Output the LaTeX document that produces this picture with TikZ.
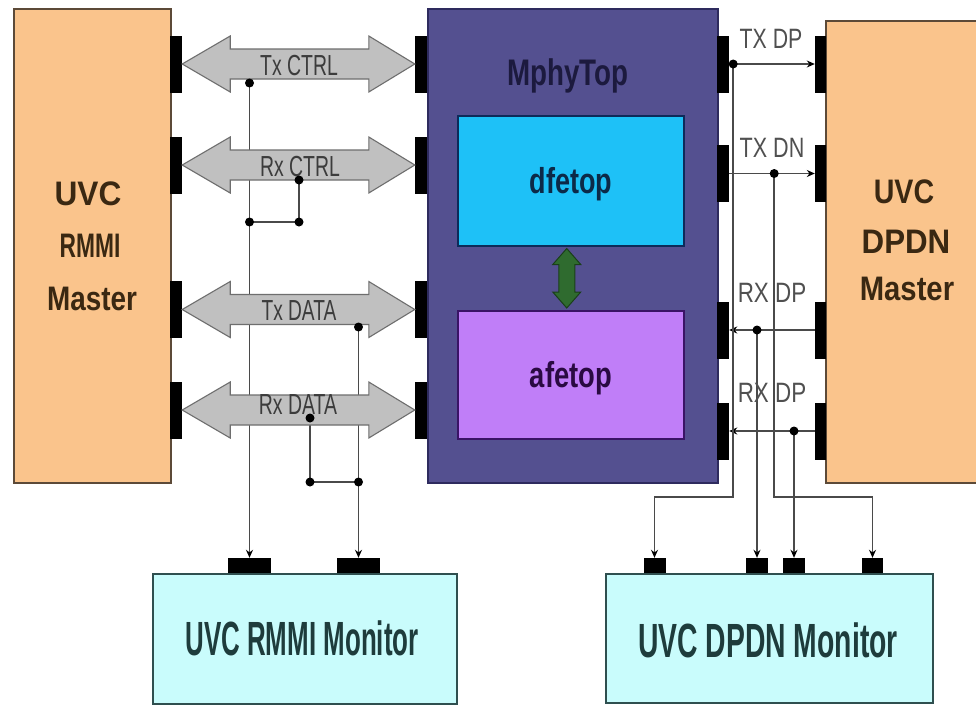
\documentclass[tikz,border=0pt]{standalone}
\usepackage{fontspec}
\setmainfont{Liberation Sans}
\usetikzlibrary{calc,arrows.meta}

\definecolor{peach}{HTML}{FAC48C}
\definecolor{peachedge}{HTML}{5C4A38}
\definecolor{mphyfill}{HTML}{545090}
\definecolor{mphyedge}{HTML}{2E2B5E}
\definecolor{dfefill}{HTML}{1EC1F7}
\definecolor{dfeedge}{HTML}{0D2B5A}
\definecolor{afefill}{HTML}{C07EF8}
\definecolor{afeedge}{HTML}{3A1466}
\definecolor{monfill}{HTML}{C9FCFC}
\definecolor{monedge}{HTML}{2F4F4F}
\definecolor{busfill}{HTML}{C0C0C0}
\definecolor{busedge}{HTML}{6E6E6E}
\definecolor{wirecol}{HTML}{4A4A4A}
\definecolor{labelcol}{HTML}{3C3C3C}
\definecolor{sidecol}{HTML}{505050}
\definecolor{gfill}{HTML}{2F6B2F}
\definecolor{gedge}{HTML}{1A3F1A}
\definecolor{mastertxt}{HTML}{3A2812}
\definecolor{montxt}{HTML}{1E3C3C}
\definecolor{mphytxt}{HTML}{1C1A3E}
\definecolor{dfetxt}{HTML}{0C2A48}
\definecolor{afetxt}{HTML}{2A0A42}

\newcommand\sq[2]{\scalebox{#1}[1]{#2}}

% double-headed bus arrow between two port nodes
\newcommand\busarrow[2]{%
  \draw[bus] (#1.east) -- ++(48,-28) -- ++(0,13)
    -- ($(#2.west)+(-46,-15)$) -- ++(0,-13) -- (#2.west)
    -- ++(-46,28) -- ++(0,-13) -- ($(#1.east)+(48,15)$)
    -- ++(0,13) -- cycle;}

\tikzset{
  box/.style={draw, line width=1.5pt, inner sep=0pt, anchor=north west},
  port/.style={fill=black, draw=none, inner sep=0pt, minimum width=12pt, minimum height=57pt},
  mport/.style={fill=black, draw=none, inner sep=0pt, minimum height=15pt},
  wire/.style={draw=wirecol, line width=1.7pt},
  tip/.style={-{Stealth[length=8pt,width=7pt,color=black]}},
  bus/.style={draw=busedge, fill=busfill, line width=1.1pt},
  gbus/.style={draw=gedge, fill=gfill, line width=1pt},
  dot/.style={circle, fill=black, inner sep=0pt, minimum size=9pt},
  txt/.style={anchor=base, inner sep=0pt},
  buslbl/.style={txt, text=labelcol, font=\fontsize{29}{29}\selectfont},
  sidelbl/.style={txt, text=sidecol, font=\fontsize{28}{28}\selectfont},
  mastertext/.style={txt, text=mastertxt, font=\bfseries\fontsize{34}{34}\selectfont},
  montext/.style={txt, text=montxt, font=\bfseries\fontsize{48}{48}\selectfont},
}

\begin{document}
\begin{tikzpicture}[x=1pt,y=-1pt]
\clip (0,0) rectangle (976,704);
\fill[white] (0,0) rectangle (976,704);

% blocks
\node[box, fill=peach, draw=peachedge, minimum width=157pt, minimum height=474pt] (rmmiM) at (13,8) {};
\node[box, fill=mphyfill, draw=mphyedge, minimum width=290pt, minimum height=474pt] (mphy) at (427,8) {};
\node[box, fill=dfefill, draw=dfeedge, minimum width=226pt, minimum height=130pt] (dfe) at (457,115) {};
\node[box, fill=afefill, draw=afeedge, minimum width=226pt, minimum height=128pt] (afe) at (457,310) {};
\node[box, fill=peach, draw=peachedge, minimum width=170pt, minimum height=462pt] (dpdnM) at (825,20) {};
\node[box, fill=monfill, draw=monedge, minimum width=304pt, minimum height=130pt] (rmmiMon) at (152,573) {};
\node[box, fill=monfill, draw=monedge, minimum width=327pt, minimum height=129pt] (dpdnMon) at (605,573) {};

% ports of the RMMI master and the left side of MphyTop
\node[port] (lp1) at (176,64) {};
\node[port] (lp2) at (176,165) {};
\node[port] (lp3) at (176,309.5) {};
\node[port] (lp4) at (176,410) {};
\node[port] (ml1) at (421,64) {};
\node[port] (ml2) at (421,165) {};
\node[port] (ml3) at (421,309.5) {};
\node[port] (ml4) at (421,410) {};

% ports of the right side of MphyTop and the DPDN master
\node[port] (mr1) at (723,64) {};
\node[port] (mr2) at (723,173.5) {};
\node[port] (mr3) at (723,330) {};
\node[port] (mr4) at (723,431) {};
\node[port, minimum width=11pt] (dp1) at (820.5,64) {};
\node[port, minimum width=11pt] (dp2) at (820.5,173.5) {};
\node[port, minimum width=11pt] (dp3) at (820.5,330) {};
\node[port, minimum width=11pt] (dp4) at (820.5,431) {};

% monitor ports
\node[mport, minimum width=43pt] (rm1) at (249.5,565.5) {};
\node[mport, minimum width=43pt] (rm2) at (358.5,565.5) {};
\node[mport, minimum width=22pt] (dm1) at (654.5,565.5) {};
\node[mport, minimum width=22pt] (dm2) at (757,565.5) {};
\node[mport, minimum width=22pt] (dm3) at (794,565.5) {};
\node[mport, minimum width=21pt] (dm4) at (872.5,565.5) {};

% junctions of the RMMI side taps
\coordinate (k1) at (249.5,83);
\coordinate (k2) at (299,180);
\coordinate (k3) at (249.5,222);
\coordinate (k4) at (299,222);
\coordinate (k5) at (358.5,327);
\coordinate (k6) at (310,418);
\coordinate (k7) at (310,482);
\coordinate (k8) at (358.5,482);

% RMMI monitor taps
\draw[wire,tip] (k1) -- (rm1.north);
\draw[wire] (k2) -- (k4) -- (k3);
\draw[wire,tip] (k5) -- (rm2.north);
\draw[wire] (k6) -- (k7) -- (k8);

% RMMI buses
\busarrow{lp1}{ml1}
\busarrow{lp2}{ml2}
\busarrow{lp3}{ml3}
\busarrow{lp4}{ml4}
\node[buslbl] (lTxC) at (299,75) {\sq{.67}{Tx CTRL}};
\node[buslbl] (lRxC) at (300,176) {\sq{.67}{Rx CTRL}};
\node[buslbl] (lTxD) at (299,320) {\sq{.66}{Tx DATA}};
\node[buslbl] (lRxD) at (298,414) {\sq{.67}{Rx DATA}};

\foreach \k in {k1,k2,k3,k4,k5,k6,k7,k8}
  \node[dot] (d\k) at (\k) {};

% DPDN lines
\coordinate (busY) at (0,497);
\coordinate (j1) at ($(mr1.east)+(4,0)$);
\coordinate (j2) at ($(mr2.east)+(45,0)$);
\coordinate (j3) at (dm2.north |- mr3.east);
\coordinate (j4) at (dm3.north |- mr4.east);

\draw[wire,tip] (mr1.east) -- (dp1.west);
\draw[wire,tip] (mr2.east) -- (dp2.west);
\draw[wire,tip] (dp3.west) -- (mr3.east);
\draw[wire,tip] (dp4.west) -- (mr4.east);
\draw[wire,tip] (j1) -- (j1 |- busY) -| (dm1.north);
\draw[wire,tip] (j2) -- (j2 |- busY) -| (dm4.north);
\draw[wire,tip] (j3) -- (dm2.north);
\draw[wire,tip] (j4) -- (dm3.north);
\foreach \j in {j1,j2,j3,j4}
  \node[dot] (d\j) at (\j) {};

\node[sidelbl] (sTxDP) at (771,48) {\sq{.76}{TX DP}};
\node[sidelbl] (sTxDN) at (772,157) {\sq{.77}{TX DN}};
\node[sidelbl] (sRxDP1) at (772,302) {\sq{.8}{RX DP}};
\node[sidelbl] (sRxDP2) at (772,402) {\sq{.8}{RX DP}};

% link between dfetop and afetop
\coordinate (ga) at ($(dfe.south)+(-4,2)$);
\coordinate (gb) at ($(afe.north)+(-4,-2)$);
\draw[gbus] (ga) -- ++(14,16) -- ++(-6,0) -- ($(gb)+(8,-16)$) -- ++(6,0)
  -- (gb) -- ++(-14,-16) -- ++(6,0) -- ($(ga)+(-8,16)$) -- ++(-6,0) -- cycle;

% block titles
\node[txt, text=mphytxt, font=\bfseries\fontsize{37}{37}\selectfont] (tMphy) at (568,85) {\sq{.75}{MphyTop}};
\node[txt, text=dfetxt, font=\bfseries\fontsize{36}{36}\selectfont] (tDfe) at (571,193) {\sq{.75}{dfetop}};
\node[txt, text=afetxt, font=\bfseries\fontsize{36}{36}\selectfont] (tAfe) at (571,387) {\sq{.76}{afetop}};

\node[mastertext] (tR1) at (88,205) {\sq{.93}{UVC}};
\node[mastertext] (tR2) at (90,257) {\sq{.67}{RMMI}};
\node[mastertext] (tR3) at (92,310) {\sq{.82}{Master}};
\node[mastertext] (tD1) at (904,203) {\sq{.84}{UVC}};
\node[mastertext] (tD2) at (906,253) {\sq{.92}{DPDN}};
\node[mastertext] (tD3) at (907,300) {\sq{.86}{Master}};

\node[montext] (tRM) at (302,655) {\sq{.54}{UVC RMMI Monitor}};
\node[montext] (tDM) at (768,657) {\sq{.59}{UVC DPDN Monitor}};
\end{tikzpicture}
\end{document}
